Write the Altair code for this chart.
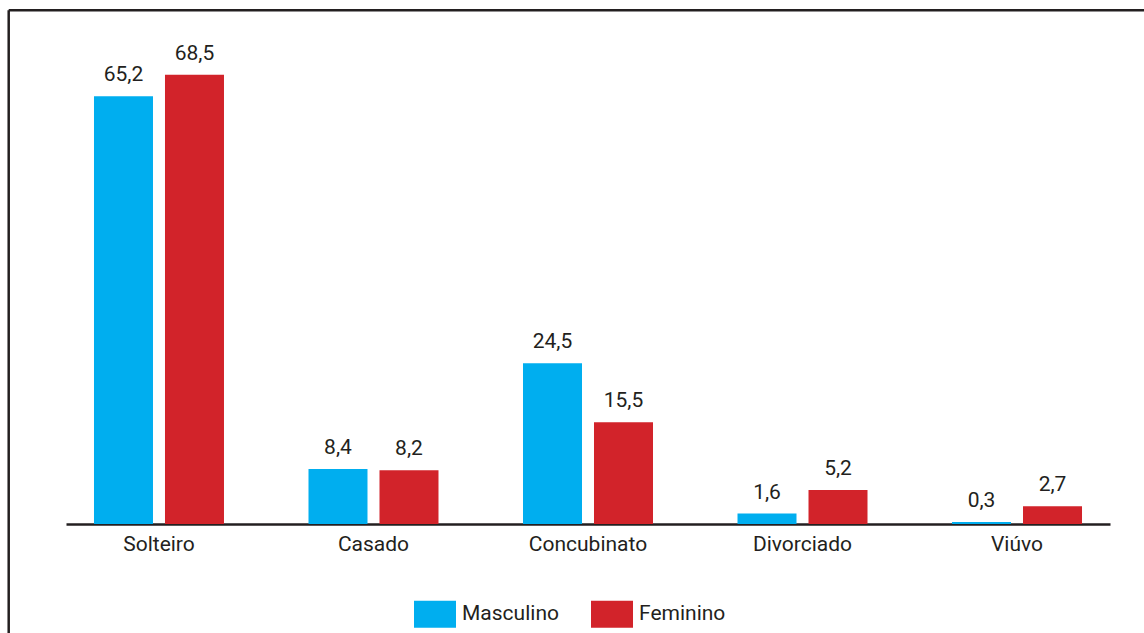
import altair as alt
import pandas as pd

categories = ["Solteiro", "Casado", "Concubinato", "Divorciado", "Viúvo"]
masculino = [65.2, 8.4, 24.5, 1.6, 0.3]
feminino = [68.5, 8.2, 15.5, 5.2, 2.7]
series = ["Masculino", "Feminino"]
colors = ["#00AEEF", "#D2232A"]

rows = []
for c, m, f in zip(categories, masculino, feminino):
    rows.append({"cat": c, "sexo": "Masculino", "v": m, "lab": f"{m:.1f}".replace(".", ",")})
    rows.append({"cat": c, "sexo": "Feminino", "v": f, "lab": f"{f:.1f}".replace(".", ",")})
df = pd.DataFrame(rows)

FONT = "Roboto"
FS = 21
INK = "#231F20"

x = alt.X("cat:N", sort=categories, title=None,
          scale=alt.Scale(paddingInner=0.2, paddingOuter=0.0335),
          axis=alt.Axis(labelAngle=0, ticks=False, domainColor=INK, domainWidth=2.5,
                        labelFont=FONT, labelFontSize=FS, labelColor=INK, labelPadding=9,
                        grid=False))
xo = alt.XOffset("sexo:N", sort=series,
                 scale=alt.Scale(paddingInner=0.169, paddingOuter=0.293))
y = alt.Y("v:Q", scale=alt.Scale(domain=[0, 75], nice=False), axis=None)

base = alt.Chart(df)
bars = base.mark_bar().encode(
    x=x, xOffset=xo, y=y,
    color=alt.Color("sexo:N", sort=series,
                    scale=alt.Scale(domain=series, range=colors),
                    legend=alt.Legend(title=None, orient="none", direction="horizontal",
                                      legendX=348, legendY=561,
                                      symbolType="M-1,-0.643L1,-0.643L1,0.643L-1,0.643Z",
                                      symbolSize=1764, symbolStrokeWidth=0,
                                      labelFont=FONT, labelFontSize=FS, labelColor=INK,
                                      labelOffset=6, columnPadding=32, labelLimit=300)),
)
labels = base.mark_text(baseline="alphabetic", dy=-15, font=FONT, fontSize=FS, color=INK).encode(
    x=x, xOffset=xo, y=y, text="lab:N"
)

frame_src = alt.Chart(pd.DataFrame({"k": [0]}))
left_line = frame_src.mark_rule(color=INK, strokeWidth=2.5).encode(
    x=alt.value(-57.3), y=alt.value(-21.7), y2=alt.value(700)
)
top_line = frame_src.mark_rule(color=INK, strokeWidth=2.5).encode(
    x=alt.value(-57.3), x2=alt.value(1200), y=alt.value(-21.7)
)

chart = alt.layer(bars, labels, left_line, top_line).properties(
    width=1044, height=492,
    autosize=alt.AutoSizeParams(type="none"),
    padding={"left": 66, "top": 32, "right": 34, "bottom": 109},
    background="white",
).configure_view(stroke=None)

chart.save("out.html", embed_options={"renderer": "svg", "actions": False})
